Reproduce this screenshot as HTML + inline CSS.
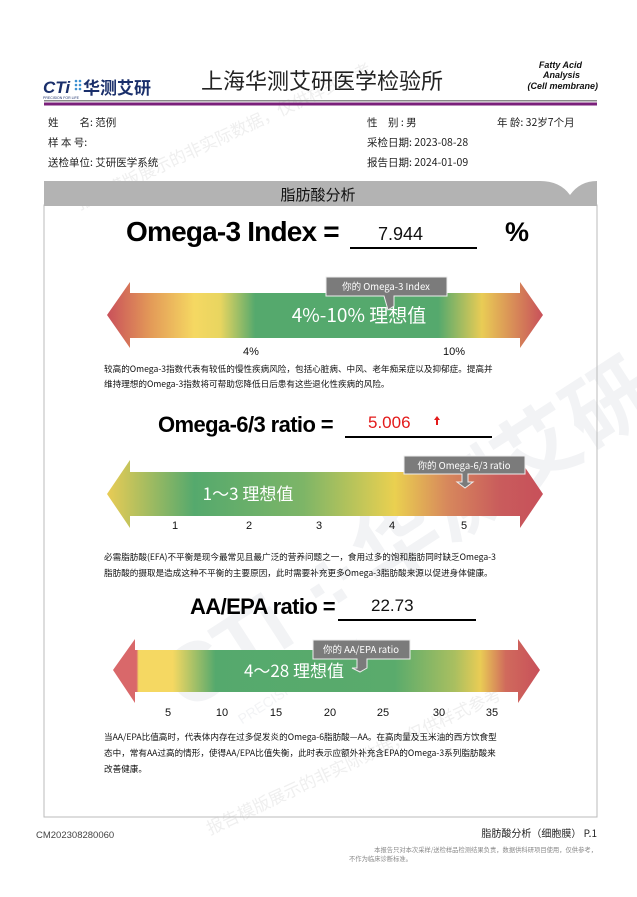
<!DOCTYPE html>
<html><head><meta charset="utf-8"><style>
html,body{margin:0;padding:0;background:#fff}
svg{display:block}
text{font-family:"Liberation Sans","Noto Sans CJK SC",sans-serif}
.cj{font-family:"Noto Sans CJK SC","Liberation Sans",sans-serif}
</style></head><body>
<svg width="637" height="897" viewBox="0 0 637 897" xmlns="http://www.w3.org/2000/svg">
<defs>
<linearGradient id="g1" x1="0" x2="1">
<stop offset="0" stop-color="#c9505a"/><stop offset="0.1" stop-color="#e39a58"/><stop offset="0.2" stop-color="#f5d862"/><stop offset="0.26" stop-color="#e8d560"/><stop offset="0.34" stop-color="#55a96d"/><stop offset="0.76" stop-color="#55a96d"/><stop offset="0.86" stop-color="#e9cc55"/><stop offset="1" stop-color="#c8505a"/>
</linearGradient>
<linearGradient id="g2" x1="0" x2="1">
<stop offset="0" stop-color="#e9cc55"/><stop offset="0.2" stop-color="#55a96d"/><stop offset="0.45" stop-color="#7db567"/><stop offset="0.66" stop-color="#ead050"/><stop offset="0.78" stop-color="#d7885c"/><stop offset="0.9" stop-color="#c95c5c"/><stop offset="1" stop-color="#c8505a"/>
</linearGradient>
<linearGradient id="g3" x1="0" x2="1">
<stop offset="0" stop-color="#d9686a"/><stop offset="0.055" stop-color="#d9686a"/><stop offset="0.06" stop-color="#f5d862"/><stop offset="0.14" stop-color="#f5d862"/><stop offset="0.24" stop-color="#55a96d"/><stop offset="0.66" stop-color="#5aab6c"/><stop offset="0.8" stop-color="#a9bf60"/><stop offset="0.86" stop-color="#e9cc55"/><stop offset="0.92" stop-color="#d06a5c"/><stop offset="1" stop-color="#c8505a"/>
</linearGradient>
</defs>

<!-- watermark -->
<text x="100" y="620" font-size="84" font-weight="bold" fill="#f2f3f5" transform="rotate(-33 300 520)">CTi ⁘华测艾研</text>
<text x="140" y="660" font-size="14" fill="#f2f3f5" transform="rotate(-33 300 520)">PRECISION FOR LIFE</text>
<text class="cj" x="80" y="210" font-size="17" fill="#efefef" transform="rotate(-25 80 210)">报告模版展示的非实际数据，仅供样式参考</text>
<text class="cj" x="210" y="835" font-size="17" fill="#efefef" transform="rotate(-25 210 835)">报告模版展示的非实际数据，仅供样式参考</text>

<!-- header -->
<text x="43" y="93" font-size="17" font-weight="bold" fill="#1a2f6b" font-style="italic">CTi</text>
<g fill="#3a8fd1"><circle cx="76" cy="81" r="1.3"/><circle cx="80" cy="81" r="1.3"/><circle cx="76" cy="85" r="1.3"/><circle cx="80" cy="85" r="1.3"/><circle cx="76" cy="89" r="1.3"/><circle cx="80" cy="89" r="1.3"/></g>
<text class="cj" x="83" y="94" font-size="17" font-weight="bold" fill="#1a2f6b">华测艾研</text>
<text x="43" y="99" font-size="3.5" fill="#1a2f6b">PRECISION FOR LIFE</text>
<text class="cj" x="322" y="89" font-size="22" text-anchor="middle" fill="#222">上海华测艾研医学检验所</text>
<g font-size="9" font-weight="bold" font-style="italic" text-anchor="end" fill="#111">
<text x="582" y="68">Fatty Acid</text><text x="580" y="78">Analysis</text><text x="598" y="89">(Cell membrane)</text></g>
<rect x="44" y="100" width="553" height="1.5" fill="#888"/>
<rect x="44" y="102.5" width="553" height="3" fill="#7a1f7a"/>

<g class="cj" font-size="10.5" fill="#222">
<text class="cj" x="48" y="126">姓　　名: 范例</text>
<text class="cj" x="48" y="146">样 本 号:</text>
<text class="cj" x="48" y="166">送检单位: 艾研医学系统</text>
<text class="cj" x="367" y="126">性　别 : 男</text>
<text class="cj" x="367" y="146">采检日期: 2023-08-28</text>
<text class="cj" x="367" y="166">报告日期: 2024-01-09</text>
<text class="cj" x="497" y="126">年 龄: 32岁7个月</text>
</g>

<!-- section -->
<rect x="44" y="205" width="553" height="612" fill="none" stroke="#bbb" stroke-width="1"/>
<path d="M44 181 H540 Q560 181 570 195 Q580 181 597 181 V206 H44 Z" fill="#b3b3b3"/>
<text class="cj" x="318" y="200" font-size="15" text-anchor="middle" fill="#111">脂肪酸分析</text>

<!-- Omega-3 -->
<text x="126" y="241" font-size="28" font-weight="bold" fill="#000" letter-spacing="-0.8">Omega-3 Index =</text>
<text x="378" y="240" font-size="18" fill="#111">7.944</text>
<rect x="350" y="247" width="127" height="2" fill="#000"/>
<text x="505" y="241" font-size="27" font-weight="bold" fill="#000">%</text>

<path d="M107 315 L130 282 V293 H520 V282 L543 315 L520 348 V338 H130 V348 Z" fill="url(#g1)"/>
<text class="cj" x="359" y="322" font-size="19" fill="#fff" text-anchor="middle">4%-10% 理想值</text>
<path d="M326 277 H447 V296 H394 V306 L388 310 L384 296 H326 Z" fill="#7b7b7b" stroke="#eee" stroke-width="1"/>
<text class="cj" x="386" y="290" font-size="9.5" fill="#fff" text-anchor="middle">你的 Omega-3 Index</text>
<text x="251" y="355" font-size="11" text-anchor="middle" fill="#111">4%</text>
<text x="454" y="355" font-size="11" text-anchor="middle" fill="#111">10%</text>
<g class="cj" font-size="8.6" fill="#111">
<text class="cj" x="104" y="372">较高的Omega-3指数代表有较低的慢性疾病风险，包括心脏病、中风、老年痴呆症以及抑郁症。提高并</text>
<text class="cj" x="104" y="387">维持理想的Omega-3指数将可帮助您降低日后患有这些退化性疾病的风险。</text></g>

<!-- Omega-6/3 -->
<text x="158" y="432" font-size="22" font-weight="bold" fill="#000" letter-spacing="-0.6">Omega-6/3 ratio =</text>
<text x="368" y="428" font-size="17" fill="#e31a1a">5.006</text>
<path d="M437 416 l-3 4 h2 v5 h2 v-5 h2 z" fill="#e31a1a"/>
<rect x="345" y="436" width="147" height="2" fill="#000"/>
<path d="M107 494 L130 460 V472 H520 V460 L543 494 L520 528 V516 H130 V528 Z" fill="url(#g2)"/>
<text class="cj" x="248" y="500" font-size="17" fill="#fff" text-anchor="middle">1～3 理想值</text>
<path d="M404 456 H525 V474 H468 V482 H473 L465 488 L457 482 H462 V474 H404 Z" fill="#7b7b7b" stroke="#eee" stroke-width="1"/>
<text class="cj" x="464" y="469" font-size="9.5" fill="#fff" text-anchor="middle">你的 Omega-6/3 ratio</text>
<g font-size="11" text-anchor="middle" fill="#111"><text x="175" y="529">1</text><text x="249" y="529">2</text><text x="319" y="529">3</text><text x="392" y="529">4</text><text x="464" y="529">5</text></g>
<g class="cj" font-size="8.6" fill="#111">
<text class="cj" x="104" y="560">必需脂肪酸(EFA)不平衡是现今最常见且最广泛的营养问题之一，食用过多的饱和脂肪同时缺乏Omega-3</text>
<text class="cj" x="104" y="576">脂肪酸的摄取是造成这种不平衡的主要原因，此时需要补充更多Omega-3脂肪酸来源以促进身体健康。</text></g>

<!-- AA/EPA -->
<text x="190" y="614" font-size="22" font-weight="bold" fill="#000" letter-spacing="-0.6">AA/EPA ratio =</text>
<text x="371" y="611" font-size="17" fill="#111">22.73</text>
<rect x="338" y="619" width="138" height="2" fill="#000"/>
<path d="M113 670 L135 639 V650 H518 V639 L540 670 L518 703 V692 H135 V703 Z" fill="url(#g3)"/>
<text class="cj" x="294" y="677" font-size="17" fill="#fff" text-anchor="middle">4～28 理想值</text>
<path d="M313 640 H410 V659 H367 V668 L360 672 L352 668 H357 V659 H313 Z" fill="#7b7b7b" stroke="#eee" stroke-width="1"/>
<text class="cj" x="361" y="653" font-size="9.5" fill="#fff" text-anchor="middle">你的 AA/EPA ratio</text>
<g font-size="11" text-anchor="middle" fill="#111"><text x="168" y="716">5</text><text x="222" y="716">10</text><text x="276" y="716">15</text><text x="330" y="716">20</text><text x="383" y="716">25</text><text x="439" y="716">30</text><text x="492" y="716">35</text></g>
<g class="cj" font-size="8.6" fill="#111">
<text class="cj" x="104" y="740">当AA/EPA比值高时，代表体内存在过多促发炎的Omega-6脂肪酸—AA。在高肉量及玉米油的西方饮食型</text>
<text class="cj" x="104" y="756">态中，常有AA过高的情形，使得AA/EPA比值失衡，此时表示应额外补充含EPA的Omega-3系列脂肪酸来</text>
<text class="cj" x="104" y="772">改善健康。</text></g>

<!-- footer -->
<text x="36" y="838" font-size="9.5" fill="#444">CM202308280060</text>
<text class="cj" x="597" y="837" font-size="10" fill="#222" text-anchor="end">脂肪酸分析（细胞膜） P.1</text>
<text class="cj" x="597" y="852" font-size="6.3" fill="#888" text-anchor="end">本报告只对本次采样/送检样品检测结果负责，数据供科研项目使用，仅供参考，</text>
<text class="cj" x="349" y="861" font-size="6.3" fill="#888">不作为临床诊断标准。</text>
</svg>
</body></html>
